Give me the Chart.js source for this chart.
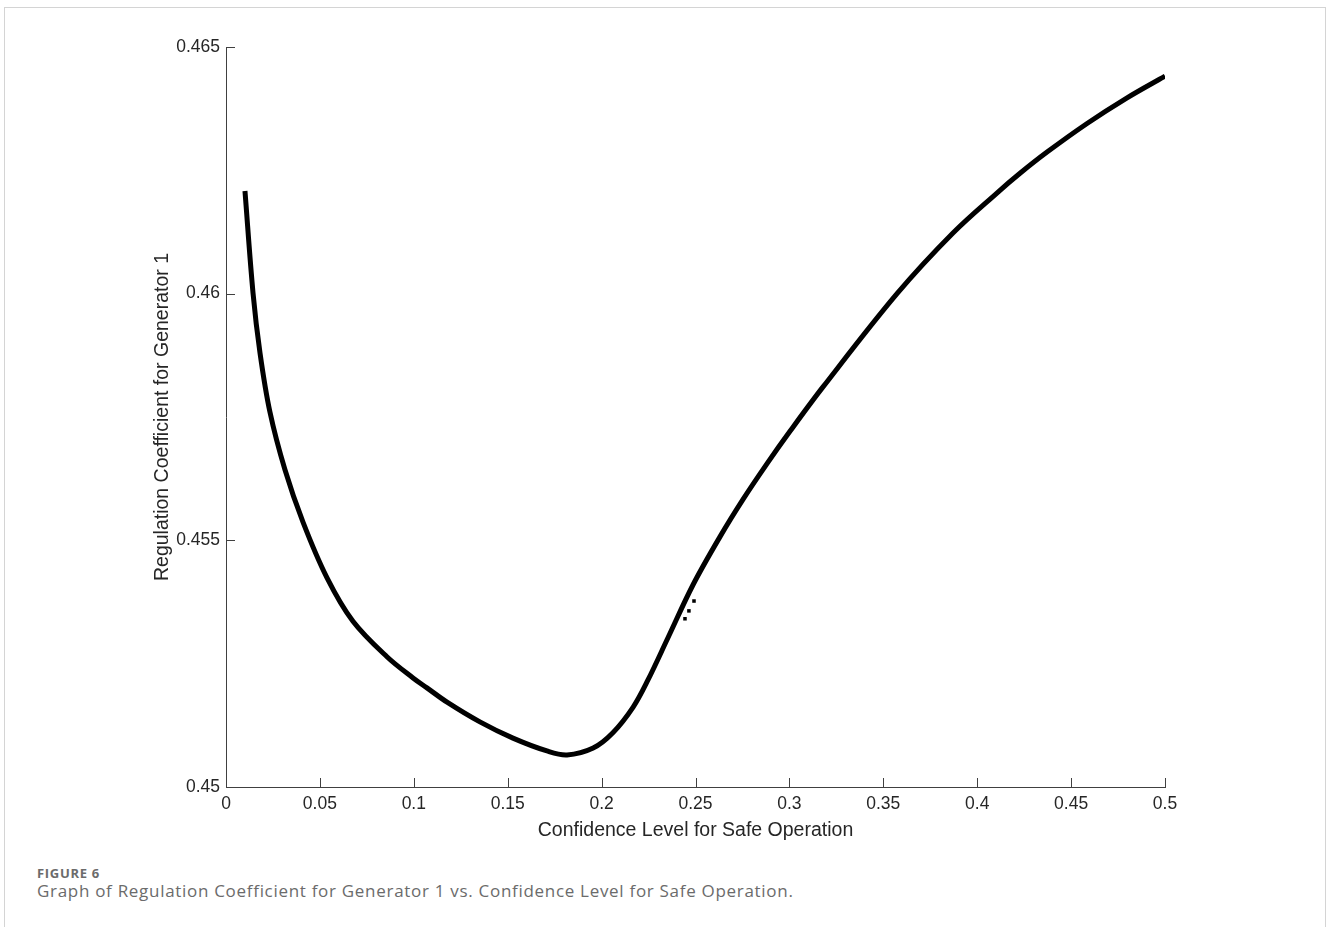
<!DOCTYPE html>
<html>
<head>
<meta charset="utf-8">
<script src="https://cdn.jsdelivr.net/npm/chart.js@4.4.1/dist/chart.umd.min.js"></script>
<style>
  html, body { margin:0; padding:0; background:#fff; }
  body { width:1328px; height:927px; position:relative; overflow:hidden; }
  .card { position:absolute; left:4px; top:7px; width:1322px; height:940px; border:1px solid #d4d4d4; box-sizing:border-box; }
  #wrap { position:absolute; left:0; top:0; width:1328px; height:842px; }
  .cap { position:absolute; left:37px; font-family:"Open Sans", sans-serif; color:#6b6b6b; }
  .cap1 { top:864px; font-size:13px; font-weight:700; letter-spacing:0.7px; }
  .cap2 { top:879px; font-size:17px; letter-spacing:0.7px; }
</style>
</head>
<body>
<div class="card"></div>
<div id="wrap"><canvas id="chart"></canvas></div>
<div class="cap cap1">FIGURE 6</div>
<div class="cap cap2">Graph of Regulation Coefficient for Generator 1 vs. Confidence Level for Safe Operation.</div>
<script>
// values
const confLevel = [0.0101,0.0144,0.0181,0.0234,0.0314,0.0410,0.0538,0.0676,0.0857,0.0996,0.1070,0.1177,0.1352,0.1528,0.1709,0.1816,0.1955,0.2060,0.2168,0.2247,0.2354,0.2487,0.2630,0.2753,0.2880,0.3003,0.3179,0.3573,0.3871,0.4105,0.4228,0.4372,0.4585,0.4798,0.5000];
const regCoef   = [0.46208,0.46001,0.45880,0.45760,0.45643,0.45537,0.45424,0.45336,0.45264,0.45221,0.45201,0.45172,0.45132,0.45099,0.45073,0.45065,0.45079,0.45110,0.45162,0.45217,0.45303,0.45410,0.45507,0.45583,0.45655,0.45721,0.45811,0.46000,0.46123,0.46204,0.46244,0.46287,0.46345,0.46397,0.46441];
// stray points near 0.245
const strayX = [0.2444,0.2465,0.2492];
const strayY = [0.45341,0.45357,0.45377];
const xTicks = [0,0.05,0.1,0.15,0.2,0.25,0.3,0.35,0.4,0.45,0.5];
const yTicks = [0.45,0.455,0.46,0.465];

const axisColor = '#404040';
const textColor = '#262626';
const fontFam = '"Liberation Sans", Arial, sans-serif';

function fmt(v){ return String(Number(v.toFixed(4))); }

// MATLAB-style inward tick marks
const innerTicks = {
  id:'innerTicks',
  afterDraw(chart){
    const {ctx, chartArea, scales} = chart;
    ctx.save();
    ctx.strokeStyle = axisColor;
    ctx.lineWidth = 1;
    ctx.beginPath();
    xTicks.forEach(v=>{
      const px = Math.round(scales.x.getPixelForValue(v)) + 0.5;
      ctx.moveTo(px, chartArea.bottom);
      ctx.lineTo(px, chartArea.bottom - 9);
    });
    yTicks.forEach(v=>{
      const py = Math.round(scales.y.getPixelForValue(v)) + 0.5;
      ctx.moveTo(chartArea.left, py);
      ctx.lineTo(chartArea.left + 9, py);
    });
    ctx.stroke();
    ctx.restore();
  }
};

const ctx = document.getElementById('chart');
new Chart(ctx, {
  type:'scatter',
  data:{
    datasets:[
      {
        type:'line',
        data: confLevel.map((x,i)=>({x, y:regCoef[i]})),
        borderColor:'#000',
        borderWidth:5,
        pointRadius:0,
        tension:0.35,
        fill:false,
        order:1
      },
      {
        data: strayX.map((x,i)=>({x, y:strayY[i]})),
        backgroundColor:'#000',
        borderWidth:0,
        pointStyle:'rect',
        pointRadius:2.5,
        order:0
      }
    ]
  },
  options:{
    responsive:true,
    maintainAspectRatio:false,
    animation:false,
    layout:{ padding:{ left:0, right:163, top:47, bottom:0 } },
    plugins:{ legend:{ display:false }, tooltip:{ enabled:false } },
    scales:{
      x:{
        type:'linear', min:0, max:0.5,
        afterFit(s){ s.height = 55; },
        afterBuildTicks(s){ s.ticks = xTicks.map(v=>({value:v})); },
        grid:{ display:false, drawTicks:false },
        border:{ display:true, color:axisColor, width:1 },
        ticks:{ color:textColor, font:{ family:fontFam, size:17.5 }, padding:7, maxRotation:0, autoSkip:false, callback:(v)=>fmt(v) },
        title:{ display:true, text:'Confidence Level for Safe Operation', color:textColor,
                font:{ family:fontFam, size:19.5 }, padding:{ top:0, bottom:0 } }
      },
      y:{
        type:'linear', min:0.45, max:0.465,
        afterFit(s){ s.width = 226; },
        afterBuildTicks(s){ s.ticks = yTicks.map(v=>({value:v})); },
        grid:{ display:false, drawTicks:false },
        border:{ display:true, color:axisColor, width:1 },
        ticks:{ color:textColor, font:{ family:fontFam, size:17.5 }, padding:6, autoSkip:false, callback:(v)=>fmt(v) },
        title:{ display:true, text:'Regulation Coefficient for Generator 1', color:textColor,
                font:{ family:fontFam, size:19.5 }, padding:{ top:151, bottom:0 } }
      }
    }
  },
  plugins:[innerTicks]
});
</script>
</body>
</html>
